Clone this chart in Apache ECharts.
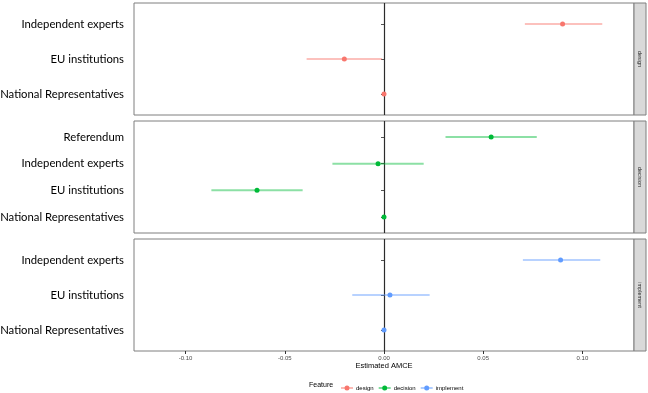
<!DOCTYPE html>
<html>
<head>
<meta charset="utf-8">
<script src="https://cdn.jsdelivr.net/npm/echarts@6/dist/echarts.min.js"></script>
<style>
html, body { margin: 0; padding: 0; background: #fff; }
#chart { width: 648px; height: 393px; }
</style>
</head>
<body>
<div id="chart"></div>
<script>
// facets and colours (ggplot default hues)
const facets = ['design', 'decision', 'implement']
const colors = ['#F8766D', '#00BA38', '#619CFF']

// levels listed bottom -> top
const designLevels = ['National Representatives', 'EU institutions', 'Independent experts']
const designEst = [0, -0.020, 0.090]
const designLo = [0, -0.039, 0.071]
const designHi = [0, -0.001, 0.110]

const decisionLevels = ['National Representatives', 'EU institutions', 'Independent experts', 'Referendum']
const decisionEst = [0, -0.064, -0.003, 0.054]
const decisionLo = [0, -0.087, -0.026, 0.031]
const decisionHi = [0, -0.041, 0.020, 0.077]

const implementLevels = ['National Representatives', 'EU institutions', 'Independent experts']
const implementEst = [0, 0.003, 0.089]
const implementLo = [0, -0.016, 0.070]
const implementHi = [0, 0.023, 0.109]

const xTicks = [-0.10, -0.05, 0.00, 0.05, 0.10]

const panels = [
  {levels: designLevels, est: designEst, lo: designLo, hi: designHi},
  {levels: decisionLevels, est: decisionEst, lo: decisionLo, hi: decisionHi},
  {levels: implementLevels, est: implementEst, lo: implementLo, hi: implementHi}
]

const panelTop = [3, 121, 239]
const panelH = 112
const gridLeft = 134
const gridRight = 634
const stripW = 12
const labelFont = 'Lato'
const smallFont = 'Liberation Sans'

const grids = panels.map((p, i) => ({
  left: gridLeft,
  width: gridRight - gridLeft,
  top: panelTop[i],
  height: panelH,
  outerBoundsMode: 'none',
  containLabel: false,
  show: true,
  borderColor: '#7f7f7f',
  borderWidth: 1,
  backgroundColor: '#fff'
}))

const xAxes = panels.map((p, i) => {
  const isLast = i === panels.length - 1
  return {
    gridIndex: i,
    type: 'value',
    min: -0.126,
    max: 0.126,
    axisLine: {show: false},
    splitLine: {show: false},
    axisTick: {
      show: isLast,
      length: 3,
      customValues: xTicks,
      lineStyle: {color: '#333'}
    },
    axisLabel: {
      show: isLast,
      customValues: xTicks,
      formatter: v => v.toFixed(2),
      fontSize: 6,
      color: '#4d4d4d',
      fontFamily: smallFont,
      margin: 4
    },
    name: isLast ? 'Estimated AMCE' : '',
    nameLocation: 'middle',
    nameGap: 11,
    nameTextStyle: {fontSize: 7.5, color: '#000', fontFamily: smallFont}
  }
})

const yAxes = panels.map((p, i) => {
  const pos = p.levels.map((l, k) => k + 1)
  return {
    gridIndex: i,
    type: 'value',
    min: 0.4,
    max: p.levels.length + 0.6,
    axisLine: {show: false},
    splitLine: {show: false},
    axisTick: {show: true, length: 3, customValues: pos, lineStyle: {color: '#555'}},
    axisLabel: {
      customValues: pos,
      formatter: v => p.levels[Math.round(v) - 1] || '',
      fontSize: 11.3,
      color: '#000',
      fontFamily: labelFont,
      margin: 10
    }
  }
})

const series = []
panels.forEach((p, i) => {
  const color = colors[i]
  series.push({
    type: 'custom',
    name: facets[i] + '-ci',
    xAxisIndex: i,
    yAxisIndex: i,
    silent: true,
    data: p.levels.map((l, k) => [p.lo[k], p.hi[k], k + 1]),
    encode: {x: [0, 1], y: 2},
    renderItem: (params, api) => {
      const a = api.coord([api.value(0), api.value(2)])
      const b = api.coord([api.value(1), api.value(2)])
      return {
        type: 'line',
        shape: {x1: a[0], y1: a[1], x2: b[0], y2: b[1]},
        style: {stroke: color, lineWidth: 2, opacity: 0.45}
      }
    },
    z: 3
  })
  series.push({
    type: 'scatter',
    name: facets[i],
    xAxisIndex: i,
    yAxisIndex: i,
    symbolSize: 5,
    itemStyle: {color: color, opacity: 1},
    data: p.levels.map((l, k) => [p.est[k], k + 1]),
    z: 5,
    markLine: {
      silent: true,
      symbol: 'none',
      label: {show: false},
      lineStyle: {color: '#2b2b2b', width: 1.2, type: 'solid', opacity: 1},
      data: [{xAxis: 0}],
      z: 2
    }
  })
})

// facet strips on the right
const graphics = []
panels.forEach((p, i) => {
  graphics.push({
    type: 'rect',
    shape: {x: gridRight, y: panelTop[i], width: stripW, height: panelH},
    style: {fill: '#d9d9d9', stroke: '#7f7f7f', lineWidth: 1}
  })
  graphics.push({
    type: 'text',
    x: gridRight + stripW / 2,
    y: panelTop[i] + panelH / 2,
    rotation: -Math.PI / 2,
    style: {
      text: facets[i],
      fontSize: 5.5,
      fill: '#1a1a1a',
      fontFamily: smallFont,
      align: 'center',
      verticalAlign: 'middle'
    }
  })
})
graphics.push({
  type: 'text',
  x: 309,
  y: 385,
  style: {text: 'Feature', fontSize: 7, fill: '#000', fontFamily: smallFont, verticalAlign: 'middle'}
})

const legendIcon = 'path://M0,2.5 L12,2.5 L12,3.5 L0,3.5 Z M3.5,3 A2.5,2.5 0 1,1 8.5,3 A2.5,2.5 0 1,1 3.5,3 Z'

const chart = echarts.init(document.getElementById('chart'), null, {renderer: 'canvas'})
chart.setOption({
  animation: false,
  backgroundColor: '#fff',
  grid: grids,
  xAxis: xAxes,
  yAxis: yAxes,
  series: series,
  graphic: graphics,
  legend: {
    data: facets,
    left: 336,
    top: 380,
    itemWidth: 12,
    itemHeight: 6,
    itemGap: 5,
    icon: legendIcon,
    itemStyle: {borderWidth: 0},
    textStyle: {fontSize: 6, color: '#000', fontFamily: smallFont, padding: [0, 0, 0, -2]}
  }
})
</script>
</body>
</html>
